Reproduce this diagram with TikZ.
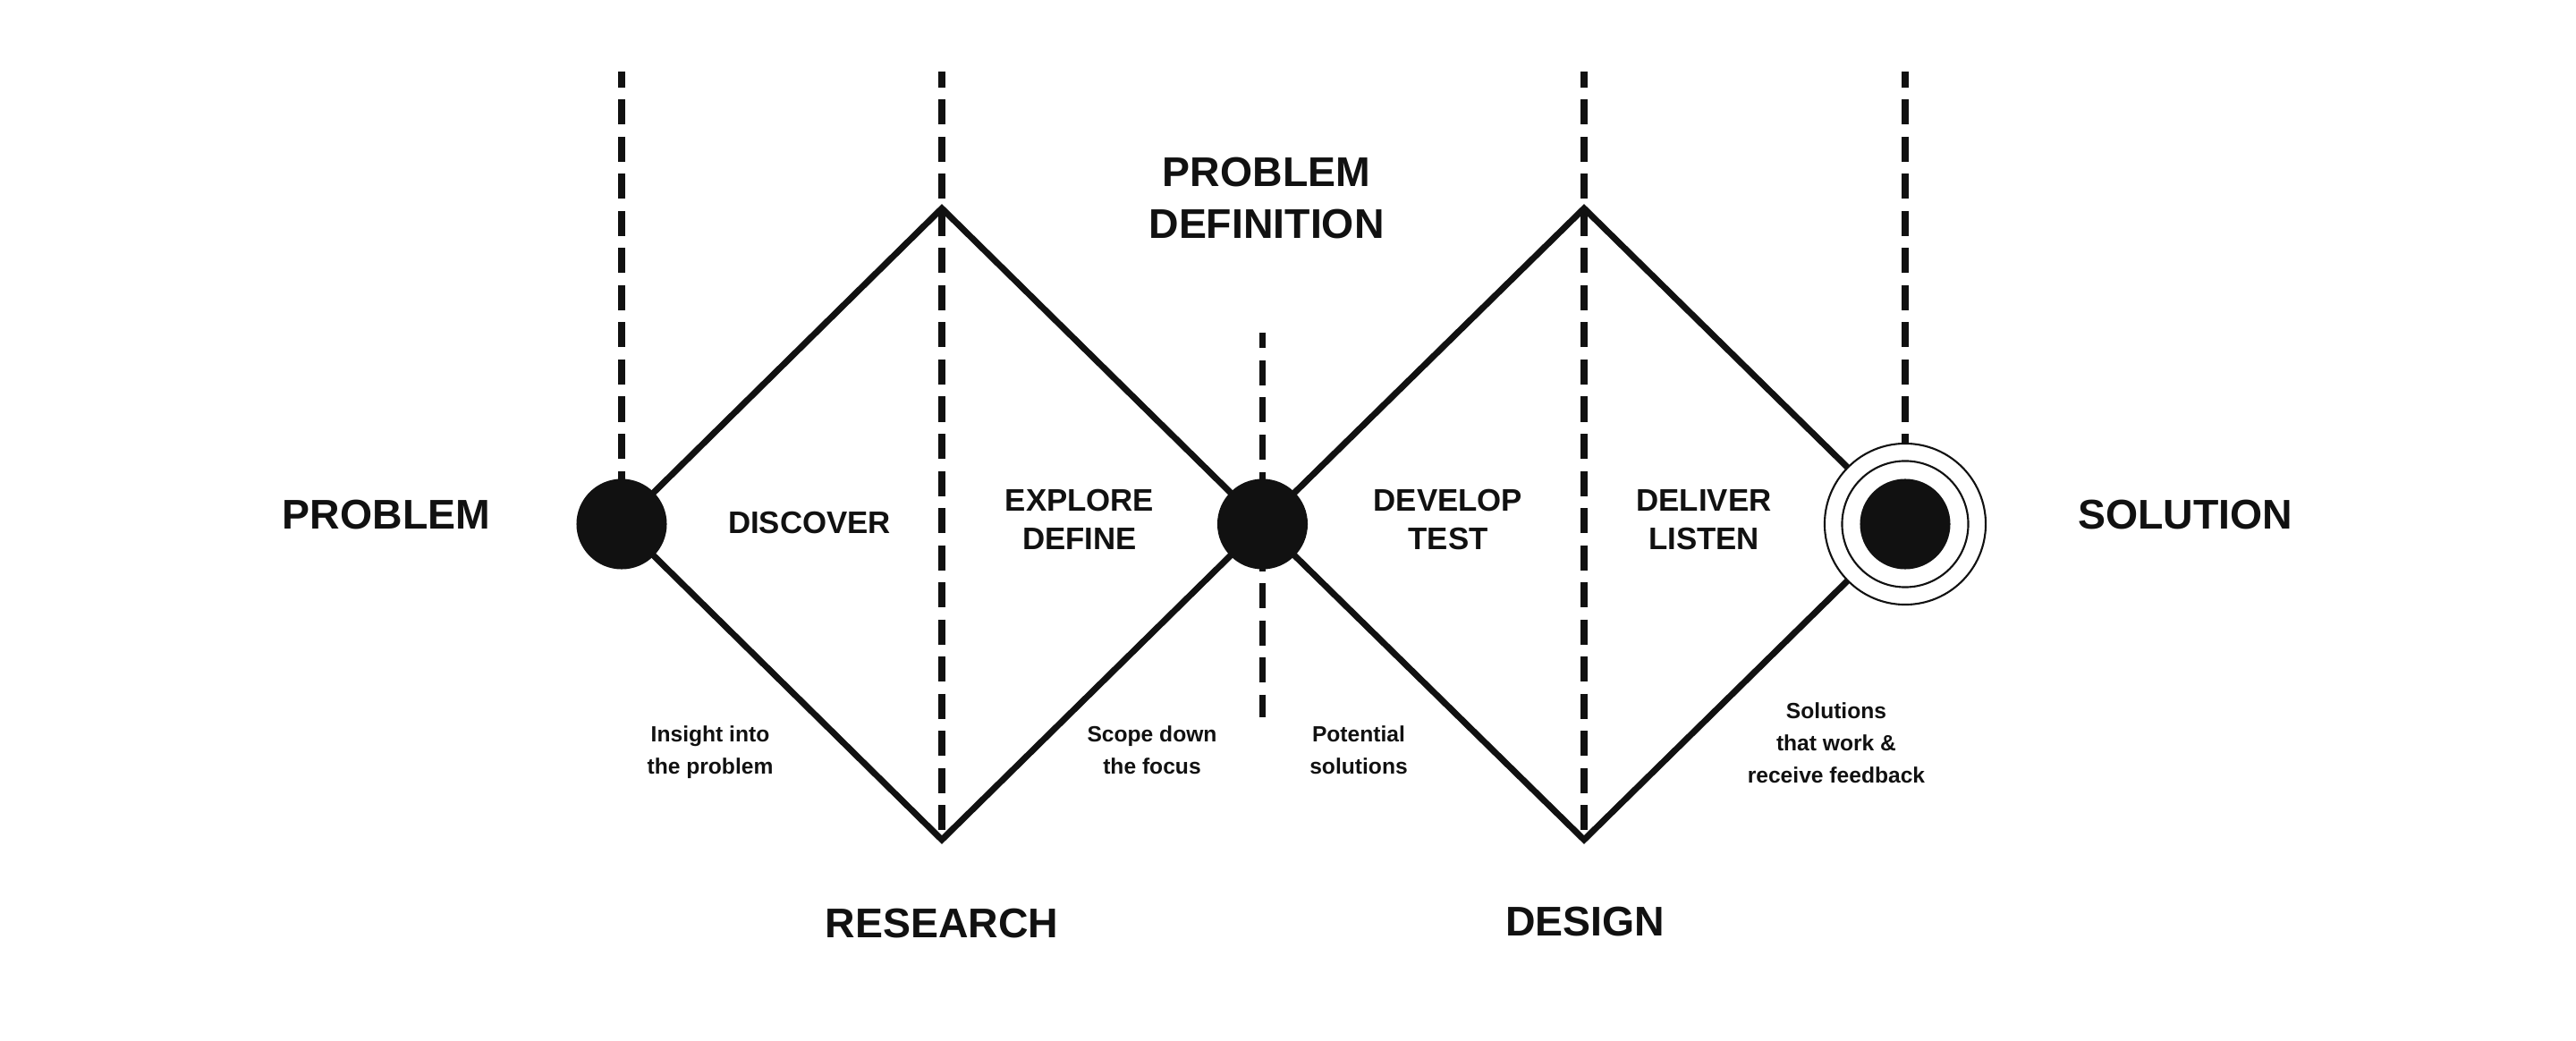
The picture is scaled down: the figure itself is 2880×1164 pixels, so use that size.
\documentclass[tikz,border=0pt]{standalone}
\usepackage{fontspec}
\setmainfont{Liberation Sans}
\definecolor{ink}{RGB}{17,17,17}
\begin{document}
\begin{tikzpicture}[x=0.01cm,y=-0.01cm,
  edgeline/.style={line width=2pt, draw=ink, line join=miter},
  guide/.style={line width=2.2pt, draw=ink, dash pattern=on 7.97pt off 3.84pt, dash phase=2.93pt},
  dot/.style={circle, fill=ink, minimum size=1.01cm, inner sep=0pt, outer sep=0pt},
  ringouter/.style={circle, draw=ink, fill=white, line width=0.6pt, minimum size=1.80cm, inner sep=0pt, outer sep=0pt},
  ringinner/.style={circle, draw=ink, line width=0.6pt, minimum size=1.41cm, inner sep=0pt, outer sep=0pt},
  biglabel/.style={text=ink, font=\fontsize{13.2}{16.5}\selectfont\bfseries, align=center, inner sep=0pt},
  midlabel/.style={text=ink, font=\fontsize{9.9}{12.2}\selectfont\bfseries, align=center, inner sep=0pt},
  smalllabel/.style={text=ink, font=\fontsize{7}{10.24}\selectfont\bfseries, align=center, inner sep=0pt}]
\useasboundingbox (0,0) rectangle (2880,1164);

% key points
\coordinate (cL) at (695,586);
\coordinate (cM) at (1411.5,586);
\coordinate (cR) at (2130,586);
\coordinate (t1) at (1053,233);
\coordinate (b1) at (1053,939);
\coordinate (t2) at (1771,233);
\coordinate (b2) at (1771,939);
% guide ends
\coordinate (gL) at (695,80);
\coordinate (g1) at (1053,80);
\coordinate (g2) at (1771,80);
\coordinate (gR) at (2130,80);
\coordinate (gMt) at (1411.5,371.7);
\coordinate (gMb) at (1411.5,801.7);

% dashed guides
\draw[guide] (gL) -- (cL);
\draw[guide] (g1) -- (b1);
\draw[guide] (g2) -- (b2);
\draw[guide] (gR) -- (cR);
\draw[guide] (gMt) -- (gMb);

% diamonds
\draw[edgeline] (cL) -- (t1) -- (cM) -- (b1) -- cycle;
\draw[edgeline] (cM) -- (t2) -- (cR) -- (b2) -- cycle;

% circles
\node[dot] (L) at (cL) {};
\node[dot] (M) at (cM) {};
\node[ringouter] (Ro) at (cR) {};
\node[ringinner] (Ri) at (cR) {};
\node[dot] (R) at (cR) {};

% labels
\node[biglabel, anchor=base] (problem) at (432,592) {PROBLEM};
\node[biglabel, anchor=base] (solution) at (2443,592) {SOLUTION};
\node[biglabel] (probdef) at (1416,221.5) {PROBLEM\\DEFINITION};
\node[biglabel, anchor=base] (research) at (1053,1048) {RESEARCH};
\node[biglabel, anchor=base] (design) at (1772,1047) {DESIGN};

\node[midlabel, anchor=base] (discover) at (905,597) {DISCOVER};
\node[midlabel] (explore) at (1207,581) {EXPLORE\\DEFINE};
\node[midlabel] (develop) at (1619,581) {DEVELOP\\TEST};
\node[midlabel] (deliver) at (1905,581) {DELIVER\\LISTEN};

\node[smalllabel] (insight) at (794,841) {Insight into\\the problem};
\node[smalllabel] (scope) at (1288,839) {Scope down\\the focus};
\node[smalllabel] (potential) at (1519,839) {Potential\\solutions};
\node[smalllabel] (works) at (2053,831) {Solutions\\that work \&\\receive feedback};
\end{tikzpicture}
\end{document}
